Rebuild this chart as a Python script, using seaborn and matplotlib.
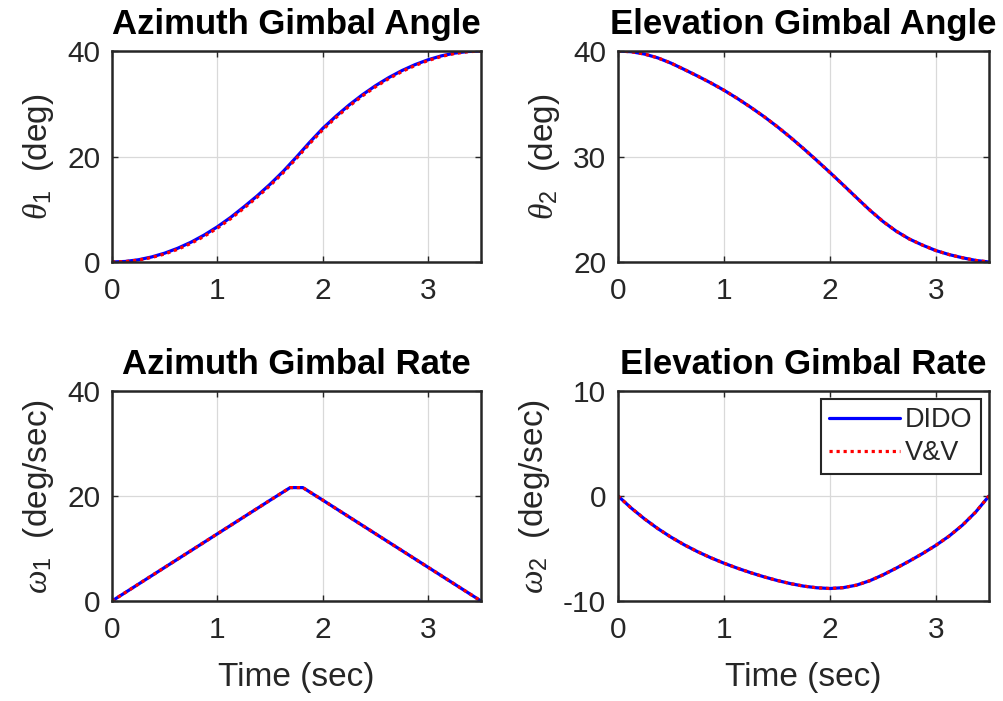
import numpy as np
import pandas as pd
import matplotlib
matplotlib.use("Agg")
import matplotlib.pyplot as plt
import seaborn as sns

# ---------------- data ----------------
time_s = [0, 0.125, 0.25, 0.375, 0.5, 0.625, 0.75, 0.875, 1.0, 1.125, 1.25, 1.375,
          1.5, 1.625, 1.75, 1.875, 2.0, 2.125, 2.25, 2.375, 2.5, 2.625, 2.75, 2.875,
          3.0, 3.125, 3.25, 3.375, 3.5]

dido_theta1 = [0, 0.1, 0.42, 0.95, 1.68, 2.62, 3.76, 5.12, 6.68, 8.45, 10.43, 12.5, 14.75,
               17.2, 19.9, 22.7, 25.35, 27.65, 29.78, 31.7, 33.43, 34.96, 36.29, 37.42,
               38.35, 39.08, 39.6, 39.9, 40.0]
vv_theta1 = [0, 0.08, 0.36, 0.85, 1.52, 2.42, 3.54, 4.88, 6.43, 8.2, 10.18, 12.25, 14.5,
             16.95, 19.65, 22.45, 25.1, 27.4, 29.55, 31.48, 33.22, 34.76, 36.1, 37.25,
             38.2, 38.97, 39.52, 39.86, 40.0]

dido_theta2 = [40.0, 39.93, 39.71, 39.35, 38.85, 38.25, 37.63, 36.98, 36.28, 35.51, 34.68,
               33.8, 32.85, 31.83, 30.75, 29.63, 28.48, 27.3, 26.1, 24.92, 23.84, 22.92,
               22.17, 21.59, 21.08, 20.7, 20.4, 20.15, 20.0]
vv_theta2 = list(dido_theta2)

time_rate1 = [0, 0.5, 1.0, 1.5, 1.69, 1.81, 2.0, 2.5, 3.0, 3.5]
dido_omega1 = [0, 6.4, 12.8, 19.2, 21.6, 21.6, 19.2, 12.8, 6.4, 0]
vv_omega1 = list(dido_omega1)

dido_omega2 = [0, -1.15, -2.18, -3.10, -3.92, -4.65, -5.30, -5.88, -6.40, -6.87, -7.30,
               -7.69, -8.04, -8.34, -8.58, -8.74, -8.81, -8.73, -8.49, -8.07, -7.51, -6.87,
               -6.19, -5.47, -4.69, -3.81, -2.77, -1.52, 0]
vv_omega2 = list(dido_omega2)

titles = ["Azimuth Gimbal Angle", "Elevation Gimbal Angle",
          "Azimuth Gimbal Rate", "Elevation Gimbal Rate"]
ylabels = [r"$\theta_{\mathrm{1}}$  (deg)", r"$\theta_{\mathrm{2}}$  (deg)",
           r"$\omega_{\mathrm{1}}$  (deg/sec)", r"$\omega_{\mathrm{2}}$  (deg/sec)"]
xlabel_text = "Time (sec)"
x_ticks = [0, 1, 2, 3]
y_ticks = [[0, 20, 40], [20, 30, 40], [0, 20, 40], [-10, 0, 10]]
series_names = ["DIDO", "V&V"]

# ---------------- style ----------------
sns.set_theme(style="white")
plt.rcParams["font.family"] = ["Liberation Sans", "DejaVu Sans"]
plt.rcParams["mathtext.fontset"] = "custom"
plt.rcParams["mathtext.rm"] = "Liberation Sans"
plt.rcParams["mathtext.it"] = "Liberation Serif:italic"
plt.rcParams["mathtext.sf"] = "Liberation Sans"
plt.rcParams["axes.unicode_minus"] = False

TXT = "#262626"
fig = plt.figure(figsize=(10.04, 7.01), dpi=100)

positions = [
    (112, 51, 481, 262),
    (618, 51, 989, 262),
    (112, 391, 481, 601),
    (618, 391, 989, 601),
]
W, H = 1004, 701

panels = [
    (time_s, dido_theta1, time_s, vv_theta1),
    (time_s, dido_theta2, time_s, vv_theta2),
    (time_rate1, dido_omega1, time_rate1, vv_omega1),
    (time_s, dido_omega2, time_s, vv_omega2),
]

for i, (pos, (tx1, y1, tx2, y2)) in enumerate(zip(positions, panels)):
    l, t, r, b = pos
    ax = fig.add_axes([l / W, 1 - b / H, (r - l) / W, (b - t) / H])
    show_leg = (i == 3)
    sns.lineplot(x=tx1, y=y1, ax=ax, color=(0, 0, 1), linewidth=2.3,
                 label=series_names[0] if show_leg else None, legend=show_leg)
    sns.lineplot(x=tx2, y=y2, ax=ax, color=(1, 0, 0), linewidth=2.3, linestyle=(0, (1, 1.2)),
                 label=series_names[1] if show_leg else None, legend=show_leg)
    ax.set_xlim(0, 3.5)
    ax.set_ylim(y_ticks[i][0], y_ticks[i][-1])
    ax.set_xticks(x_ticks)
    ax.set_yticks(y_ticks[i])
    ax.grid(True, color="#d9d9d9", linewidth=0.9)
    ax.set_axisbelow(True)
    for s in ax.spines.values():
        s.set_color(TXT)
        s.set_linewidth(1.8)
        s.set_visible(True)
    ax.tick_params(direction="in", length=4, width=1.0, color=TXT, labelcolor=TXT,
                   labelsize=21.5, top=True, right=True, bottom=True, left=True)
    ax.tick_params(axis="x", pad=11)
    ax.tick_params(axis="y", pad=8.5)
    ax.set_title(titles[i], fontsize=25, fontweight="bold", color="black", pad=12)
    ax.set_ylabel(ylabels[i], fontsize=24, color=TXT, labelpad=8)
    if i >= 2:
        ax.set_xlabel(xlabel_text, fontsize=24, color=TXT, labelpad=13)
    else:
        ax.set_xlabel("")
    if show_leg:
        leg = ax.legend(loc="upper right", fontsize=19.5, frameon=True, fancybox=False,
                        edgecolor=TXT, framealpha=1, handlelength=2.6, handletextpad=0.2,
                        borderpad=0.3, labelspacing=0.25, borderaxespad=0.3)
        leg.get_frame().set_linewidth(1.5)

fig.savefig("out.png", dpi=100, facecolor="white")
